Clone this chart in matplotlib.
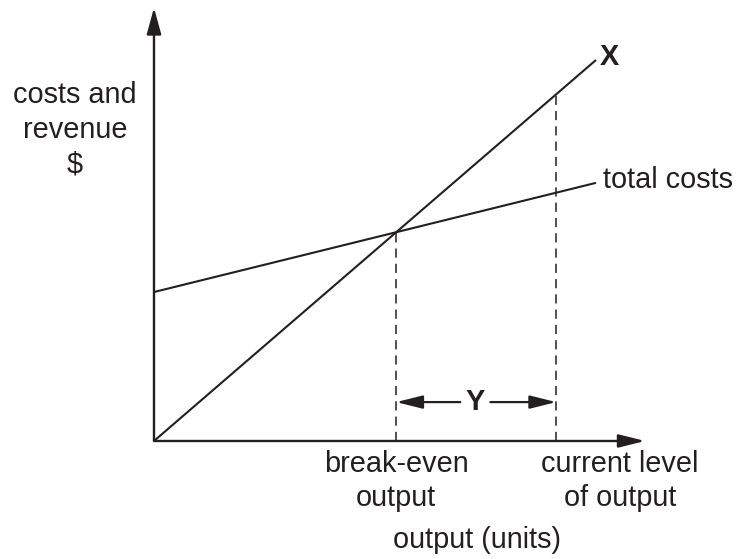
import numpy as np
import matplotlib
matplotlib.use('Agg')
import matplotlib.pyplot as plt

# Break-even chart values (arbitrary units)
output = np.array([0, 10])
revenue = np.array([0, 8.62])        # line X
total_costs = np.array([3.37, 5.84])
current_output = 9.10

# break-even point = where the two lines meet
rev_slope = (revenue[1] - revenue[0]) / (output[1] - output[0])
cost_slope = (total_costs[1] - total_costs[0]) / (output[1] - output[0])
breakeven = total_costs[0] / (rev_slope - cost_slope)
breakeven_value = rev_slope * breakeven
current_value = rev_slope * current_output

ink = '#231f20'
plt.rcParams['font.family'] = ['Liberation Sans', 'DejaVu Sans']
fs = 20.8

fig = plt.figure(figsize=(7.37, 5.59), dpi=100)
ax = fig.add_axes([0, 0, 1, 1])
ax.set_xlim(-3.484, 13.190)
ax.set_ylim(-2.670, 9.977)
ax.axis('off')

# axes with arrow heads
ax.annotate('', xy=(0, 9.80), xytext=(0, 0),
            arrowprops=dict(arrowstyle='-|>,head_length=0.8,head_width=0.22',
                            color=ink, lw=1.7, mutation_scale=20,
                            shrinkA=0, shrinkB=0))
ax.annotate('', xy=(11.11, 0), xytext=(0, 0),
            arrowprops=dict(arrowstyle='-|>,head_length=0.8,head_width=0.2',
                            color=ink, lw=1.7, mutation_scale=20,
                            shrinkA=0, shrinkB=0))

# revenue and cost lines
ax.plot(output, revenue, color=ink, lw=1.5, solid_capstyle='butt')
ax.plot(output, total_costs, color=ink, lw=1.5, solid_capstyle='butt')

# dashed guides
ax.plot([breakeven, breakeven], [0, breakeven_value], color=ink, lw=1.1,
        linestyle=(0, (6, 4)))
ax.plot([current_output, current_output], [0, current_value], color=ink, lw=1.1,
        linestyle=(0, (6, 4)))

# Y span arrows
mid = (breakeven + current_output) / 2
y_arrow = 0.88
for tip, start in [(breakeven, mid - 0.36), (current_output, mid + 0.32)]:
    ax.annotate('', xy=(tip, y_arrow), xytext=(start, y_arrow),
                arrowprops=dict(arrowstyle='-|>,head_length=0.8,head_width=0.2',
                                color=ink, lw=1.6, mutation_scale=20,
                                shrinkA=0, shrinkB=0))
ax.text(mid - 0.02, y_arrow, 'Y', fontsize=fs, fontweight='bold', color=ink,
        ha='center', va='center')

# labels
ax.text(10.09, 8.69, 'X', fontsize=fs, fontweight='bold', color=ink,
        ha='left', va='center')
ax.text(10.16, 5.90, 'total costs', fontsize=fs, color=ink, ha='left', va='center')
ax.text(-1.79, 7.04, 'costs and\nrevenue\n$', fontsize=fs, color=ink,
        ha='center', va='center', multialignment='center', linespacing=1.3)
ax.text(breakeven, -0.905, 'break-even\noutput', fontsize=fs, color=ink,
        ha='center', va='center', multialignment='center', linespacing=1.23)
ax.text(10.54, -0.905, 'current level\nof output', fontsize=fs, color=ink,
        ha='center', va='center', multialignment='center', linespacing=1.23)
ax.text(7.31, -2.24, 'output (units)', fontsize=fs, color=ink,
        ha='center', va='center')

fig.savefig('out.png', dpi=100)
